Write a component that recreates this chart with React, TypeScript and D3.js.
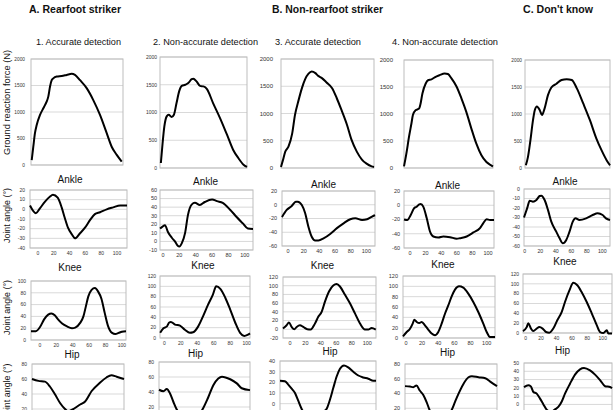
import React from "react";
import * as d3 from "d3";

type Pt = [number, number];

// ---------- Ground reaction force (x: % of stance, y: N) ----------
const grfRearAccurate: Pt[] = [[0.8,94],[2.5,345],[4.3,600],[6.2,755],[9.8,945],[13.4,1070],[15.2,1130],[17,1195],[18.8,1290],[20.7,1480],[22.5,1600],[24.2,1635],[28,1670],[33.4,1680],[38.8,1700],[44.2,1720],[47.8,1700],[53.3,1600],[60.5,1450],[67.7,1225],[75,945],[82.3,600],[87.7,345],[93.2,190],[98.6,63]];
const grfRearNonAccurate: Pt[] = [[1,90],[3,450],[5,750],[7.7,930],[10,960],[13.4,920],[16,960],[19,1170],[22,1380],[25,1480],[29,1500],[32.5,1530],[36.4,1600],[38.3,1610],[42,1560],[46,1480],[50,1470],[54,1420],[61,1170],[69,900],[77,600],[84,330],[90,180],[96,60],[100,20]];
const grfNonRearAccurate: Pt[] = [[0,20],[2,140],[4.6,300],[8,390],[12,630],[15,970],[19,1250],[22.5,1465],[26,1630],[29.6,1730],[33,1770],[37,1740],[40,1690],[44,1650],[49,1570],[55,1465],[60,1280],[65,1065],[71,790],[76,510],[81.5,300],[87,155],[92,80],[97.5,30],[100,20]];
const grfNonRearNonAccurate: Pt[] = [[0,30],[2.7,270],[5.6,575],[8.3,820],[10,980],[13,1070],[17,1100],[18.4,1175],[20.7,1380],[24.4,1565],[27,1625],[30.8,1640],[34.5,1680],[40,1720],[45.7,1750],[49.4,1740],[53.3,1660],[59,1510],[64.5,1290],[70,1040],[75.7,730],[81.3,450],[87,235],[92.6,110],[98,50],[100,30]];
const grfDontKnow: Pt[] = [[1,50],[3.5,205],[6.4,515],[9.4,885],[11.5,1070],[14,1140],[17.4,1070],[20,980],[23,1100],[27,1350],[31,1490],[37,1560],[43,1630],[49,1645],[55,1630],[61,1475],[68.5,1195],[76.4,885],[84,545],[90,330],[96,145],[100,50]];

// ---------- Ankle angle (deg) ----------
const ankleRearAccurate: Pt[] = [[-10,4],[-2.5,-4],[2.5,1],[9,8],[15,13],[19,15],[25,12],[30,2],[34,-9],[38,-19],[43,-26],[47,-30],[53,-25],[59.5,-19],[66,-11],[72,-5],[78.5,-3],[87,0],[95,2],[104,4],[112.6,4]];
const ankleRearNonAccurate: Pt[] = [[-3.7,15],[-1,17],[2.4,19],[6,11],[11,4],[14.6,0],[18,-5],[20,-6],[23,-2],[27,10],[30.5,31],[35,43],[39,45],[45,42.5],[51,46],[60,49],[66,47],[73,45],[82,37],[90,28.5],[97.6,21],[103.7,15],[110,14.5]];
const ankleNonRearAccurate: Pt[] = [[-7.7,-18],[-1.7,-7.6],[4.7,-1.8],[9.9,4.4],[12.4,4.5],[17.6,-0.4],[21.8,-12],[26,-32],[30.4,-47],[34.6,-52],[38.8,-52],[45.3,-49],[53.8,-42.5],[62.4,-34],[70.9,-27],[79.5,-21],[85.9,-19.7],[94.5,-22],[100.9,-21],[106,-18],[111,-15]];
const ankleNonRearNonAccurate: Pt[] = [[-7.7,-20],[-3.5,-20.7],[0.9,-13.7],[5.1,-4.3],[8.6,-2],[11.9,1.3],[13.7,1.8],[17,-2],[21.4,-18],[25.6,-36.8],[29.9,-43.8],[36.3,-45.2],[42.7,-43.8],[51.3,-44.8],[59.9,-47],[64.1,-46.2],[72.7,-43.8],[81.2,-38.2],[89.7,-32],[94,-25],[98.3,-19.7],[102.6,-20.7],[107.7,-20.7]];
const ankleDontKnow: Pt[] = [[-1,-30],[3,-20.4],[6.4,-12.3],[10.6,-13.3],[15,-11.6],[19.2,-7.4],[21.4,-7],[25.6,-11.6],[29.9,-22],[34.2,-34.4],[40.6,-44.9],[44.9,-51.9],[49.1,-57.2],[53.5,-53.7],[57.7,-44.9],[61.9,-34.4],[65.4,-30.9],[70.5,-32.6],[79.1,-30.9],[87.6,-27.4],[94,-25.6],[100.4,-27.4],[104.7,-30.9],[109.9,-32.6]];

// ---------- Knee angle (deg) ----------
const kneeRearAccurate: Pt[] = [[-11,15],[-5,15],[0,22],[5,35],[10,43],[14,45],[18,42],[22,35],[27,28],[33,23],[39,20],[43,21],[49,29],[53,40],[56,57],[59,74],[63,85],[67,88],[71,82],[75,70],[79,46],[83,24],[88,12],[92,10],[96,12],[100,14],[105,15]];
const kneeRearNonAccurate: Pt[] = [[-5,10],[-1,19],[3,22],[6,30],[8,31],[13,26],[19,24],[25,16],[31,10],[35,11],[41,22],[47,42],[53,64],[59,84],[63,100],[68,95],[74,78],[80,55],[86,30],[92,10],[97,4],[101,6],[104,9]];
const kneeNonRearAccurate: Pt[] = [[-9,2],[-4.3,9.3],[-1.3,15.6],[2.2,5.4],[5.6,0],[8.7,5.4],[12.9,9.3],[17.2,5.4],[22.4,0],[26.8,-0.6],[32.3,13],[36.6,28.6],[41,40],[45.3,63.4],[50.5,86.6],[56,100.5],[60.4,103.7],[64.7,98.2],[71.2,79],[77.6,59.7],[84.1,36.5],[90.6,13.3],[97,-0.6],[101.3,-0.6],[105.7,3],[111,-0.6]];
const kneeNonRearNonAccurate: Pt[] = [[-3.7,3.3],[0.9,11.6],[5,18],[8.3,27.8],[10.3,35.5],[13.3,31],[16.5,29],[19.5,31],[23.5,24.6],[27.6,16.2],[31.8,8.5],[35.9,5.2],[40,11.6],[44.2,27.8],[48.3,47],[52.4,63],[56.6,80.5],[60.7,93.6],[65.7,100],[71,97.4],[77.2,85.8],[83.4,69.7],[89.6,50.3],[95.8,27.8],[100,11.6],[104,2],[110.3,2]];
const kneeDontKnow: Pt[] = [[-3.5,4],[1.3,12],[3.4,20],[6.9,9],[9.9,4],[14.3,9],[17.7,12],[22,9],[26.4,2],[30.6,0.7],[35.8,9],[41,26],[46.8,43],[51,63],[56.6,86],[61.8,102],[67,97],[72.7,83],[79.2,63],[85.7,40],[92.2,16],[96.5,2],[100.8,0],[105.2,5.5],[107.3,-1],[112,-1]];

// ---------- Hip angle (deg) ----------
const hipRearAccurate: Pt[] = [[-9.8,60],[-2,57.5],[6,56.5],[12,50],[18,40],[24.4,28],[30.5,20],[34,17],[39,19],[49,26],[55,30],[63,44],[73,55],[81,62],[87,65],[93.5,63],[102.4,60]];
const hipRearNonAccurate: Pt[] = [[-6.4,43],[-1,41],[3,44],[7,38],[11,27],[15,17],[21.5,8],[31,4],[40,7],[47,18],[53,32],[59.5,49],[65.5,58],[70,60.5],[80,57],[88,51.5],[94,45],[104,42.5]];
const hipNonRearAccurate: Pt[] = [[-12.9,21.5],[-6.5,21],[-2.2,17.8],[2.2,14],[6.5,10],[10.7,2.8],[15,-4.7],[21,-11],[28,-14],[35,-12],[42,-8],[47.5,-4.7],[51.7,3.7],[56,14.6],[60.4,25.5],[64.7,32.7],[69.9,35.8],[75.4,34],[81.9,30],[88.4,26.4],[94.8,24.6],[101.3,23.4],[107.8,21.5],[111.3,21.5]];
const hipNonRearNonAccurate: Pt[] = [[-1.2,50],[5,49.5],[9,48.5],[13,51],[17,44],[21.4,38],[25.6,28],[29,18],[36,6],[43,3],[51,8],[56.6,18],[60.7,29],[64.8,39.5],[71,53],[77.2,62],[81.4,63.5],[89.6,62],[97.9,60.7],[104,56],[112.4,50]];
const hipDontKnow: Pt[] = [[-2.2,21],[3.4,23],[6.5,22],[10,15],[14.3,13],[18.6,7],[23,0],[27,-6],[33,-9],[38,-6],[42.3,-3],[46.8,3.6],[51,13],[57.5,25],[64,36],[70.5,42.4],[75.7,44],[83.5,41],[90,36],[96.5,29.4],[103,22],[109.5,21],[112,19.4]];

// ---------- Text ----------
const groupTitles = ["A. Rearfoot striker", "B. Non-rearfoot striker", "C. Don't know"];
const columnTitles = ["1. Accurate detection", "2. Non-accurate detection", "3. Accurate detection", "4. Non-accurate detection"];
const jointNames = ["Ankle", "Knee", "Hip"];
const grfAxisTitle = "Ground reaction force (N)";
const jointAxisTitle = "Joint angle (°)";
const xTickValues = [0, 20, 40, 60, 80, 100];

// ---------- Layout ----------
const FONT = "Arial, 'Liberation Sans', Helvetica, sans-serif";
type Box = [number, number, number, number]; // left, top, right, bottom
interface PanelSpec {
  data: Pt[];
  xDomain: [number, number];
  yDomain: [number, number];
  yStep: number;
  box: Box;
  gap: number;
  font: number;
  xTicks: boolean;
}

const panels: PanelSpec[] = [
  // GRF row
  { data: grfRearAccurate, xDomain: [0, 100], yDomain: [0, 2000], yStep: 500, box: [31, 59, 123, 165], gap: 6, font: 4.8, xTicks: false },
  { data: grfRearNonAccurate, xDomain: [0, 100], yDomain: [0, 2000], yStep: 500, box: [160, 57, 247, 168], gap: 3, font: 5, xTicks: false },
  { data: grfNonRearAccurate, xDomain: [0, 100], yDomain: [0, 2000], yStep: 500, box: [281, 59, 374, 168], gap: 8, font: 6, xTicks: false },
  { data: grfNonRearNonAccurate, xDomain: [0, 100], yDomain: [0, 2000], yStep: 500, box: [404, 60, 493, 168], gap: 11, font: 6, xTicks: false },
  { data: grfDontKnow, xDomain: [0, 100], yDomain: [0, 2000], yStep: 500, box: [525, 60, 610, 168], gap: 3, font: 4.8, xTicks: false },
  // Ankle row
  { data: ankleRearAccurate, xDomain: [-10, 112.6], yDomain: [-40, 20], yStep: 10, box: [30, 190, 127, 248], gap: 5, font: 5, xTicks: true },
  { data: ankleRearNonAccurate, xDomain: [-3.7, 110], yDomain: [-10, 60], yStep: 10, box: [160, 190, 253, 250], gap: 3, font: 5.5, xTicks: true },
  { data: ankleNonRearAccurate, xDomain: [-7.7, 111], yDomain: [-60, 20], yStep: 20, box: [282, 191, 375, 246], gap: 5, font: 5.5, xTicks: true },
  { data: ankleNonRearNonAccurate, xDomain: [-7.7, 107.7], yDomain: [-60, 20], yStep: 20, box: [404, 191, 494, 248], gap: 4, font: 5.5, xTicks: true },
  { data: ankleDontKnow, xDomain: [-1, 109.9], yDomain: [-60, 0], yStep: 10, box: [524, 189, 610, 246], gap: 4, font: 5.2, xTicks: true },
  // Knee row
  { data: kneeRearAccurate, xDomain: [-11, 105], yDomain: [0, 100], yStep: 20, box: [31, 281, 126, 340], gap: 5, font: 5, xTicks: true },
  { data: kneeRearNonAccurate, xDomain: [-5.2, 104], yDomain: [0, 120], yStep: 20, box: [160, 276, 250, 338], gap: 4, font: 5, xTicks: true },
  { data: kneeNonRearAccurate, xDomain: [-9, 111.3], yDomain: [-20, 120], yStep: 20, box: [283, 277, 376, 338], gap: 5, font: 5.5, xTicks: true },
  { data: kneeNonRearNonAccurate, xDomain: [-3.7, 110.3], yDomain: [0, 120], yStep: 20, box: [403, 276, 495, 338], gap: 5, font: 5.5, xTicks: true },
  { data: kneeDontKnow, xDomain: [-3.5, 112], yDomain: [0, 120], yStep: 20, box: [523, 274, 612, 333], gap: 4, font: 5, xTicks: true },
  // Hip row (x axis lies below the visible area)
  { data: hipRearAccurate, xDomain: [-9.8, 102.4], yDomain: [0, 80], yStep: 20, box: [32, 364, 124, 424], gap: 5, font: 5, xTicks: false },
  { data: hipRearNonAccurate, xDomain: [-6.4, 104], yDomain: [0, 80], yStep: 20, box: [159, 362, 250, 422], gap: 5, font: 5, xTicks: false },
  { data: hipNonRearAccurate, xDomain: [-12.9, 111.3], yDomain: [-20, 40], yStep: 10, box: [280, 361, 376, 425], gap: 5, font: 5.5, xTicks: false },
  { data: hipNonRearNonAccurate, xDomain: [-1.2, 112.4], yDomain: [0, 80], yStep: 20, box: [405, 364, 497, 423], gap: 5, font: 5.5, xTicks: false },
  { data: hipDontKnow, xDomain: [-2.2, 112], yDomain: [-20, 50], yStep: 10, box: [524, 363, 612, 421], gap: 5, font: 5, xTicks: false },
];

const groupTitlePos: [number, number, number][] = [[29, 12.5, 92], [272, 12.5, 111], [523, 12.5, 70]];
const columnTitlePos: [number, number, number][] = [[36, 45, 85], [153, 45, 105], [275, 45, 86], [392, 45, 106]];
const jointLabelPos: [number, number][][] = [
  [[70, 179], [205.5, 181], [323.5, 184], [447.5, 185], [565, 181]],
  [[70, 267], [203, 265], [322.5, 265], [443, 264], [565, 261]],
  [[72, 354], [195.5, 353.5], [330, 351.5], [447.5, 352.5], [562.5, 350.5]],
];
const yTitlePos: [string, number, number, number][] = [
  [grfAxisTitle, 10, 102.5, 105],
  [jointAxisTitle, 10, 215.5, 55],
  [jointAxisTitle, 10, 307.5, 55],
  [jointAxisTitle, 10, 391, 55],
];

function Panel({ p }: { p: PanelSpec }) {
  const [l, t, r, b] = p.box;
  const x = d3.scaleLinear().domain(p.xDomain).range([l, r]);
  const y = d3.scaleLinear().domain(p.yDomain).range([b, t]);
  const yTicks = d3.range(p.yDomain[0], p.yDomain[1] + 1e-6, p.yStep);
  const line = d3
    .line<Pt>()
    .x((d) => x(d[0]))
    .y((d) => y(d[1]))
    .curve(d3.curveMonotoneX);
  return (
    <g>
      {yTicks.map((v) => (
        <line key={"g" + v} x1={l} x2={r} y1={y(v)} y2={y(v)} stroke="#d9d9d9" strokeWidth={1} />
      ))}
      <rect x={l} y={t} width={r - l} height={b - t} fill="none" stroke="#bdbdbd" strokeWidth={1} />
      {yTicks.map((v) => (
        <text key={"t" + v} x={l - p.gap} y={y(v)} dy="0.35em" textAnchor="end" fontSize={p.font} fill="#333" fontFamily={FONT}>
          {v}
        </text>
      ))}
      {p.xTicks &&
        xTickValues.map((v) => (
          <text key={"x" + v} x={x(v)} y={b + 5} dy="0.35em" textAnchor="middle" fontSize={p.font} fill="#333" fontFamily={FONT}>
            {v}
          </text>
        ))}
      <path d={line(p.data) || ""} fill="none" stroke="#000" strokeWidth={2} strokeLinejoin="round" />
    </g>
  );
}

export default function App() {
  return (
    <svg
      width={615}
      height={410}
      viewBox="0 0 615 410"
      style={{ position: "absolute", left: 0, top: 0, background: "#fff", overflow: "hidden" }}
    >
      <rect x={0} y={0} width={615} height={410} fill="#fff" />
      {panels.map((p, i) => (
        <Panel key={i} p={p} />
      ))}
      {groupTitles.map((s, i) => (
        <text key={s} x={groupTitlePos[i][0]} y={groupTitlePos[i][1]} fontSize={10.5} fontWeight="bold" fontFamily={FONT} fill="#111" textLength={groupTitlePos[i][2]} lengthAdjust="spacingAndGlyphs">
          {s}
        </text>
      ))}
      {columnTitles.map((s, i) => (
        <text key={s + i} x={columnTitlePos[i][0]} y={columnTitlePos[i][1]} fontSize={9} fontFamily={FONT} fill="#111" textLength={columnTitlePos[i][2]} lengthAdjust="spacingAndGlyphs">
          {s}
        </text>
      ))}
      {jointNames.map((name, ri) =>
        jointLabelPos[ri].map(([cx, cy], ci) => (
          <text key={name + ci} x={cx} y={cy} dy="0.35em" textAnchor="middle" fontSize={10} fontFamily={FONT} fill="#111">
            {name}
          </text>
        ))
      )}
      {yTitlePos.map(([s, cx, cy, len], i) => (
        <text key={"y" + i} transform={`translate(${cx},${cy}) rotate(-90)`} textAnchor="middle" fontSize={9} fontFamily={FONT} fill="#111" textLength={len} lengthAdjust="spacingAndGlyphs">
          {s}
        </text>
      ))}
    </svg>
  );
}
